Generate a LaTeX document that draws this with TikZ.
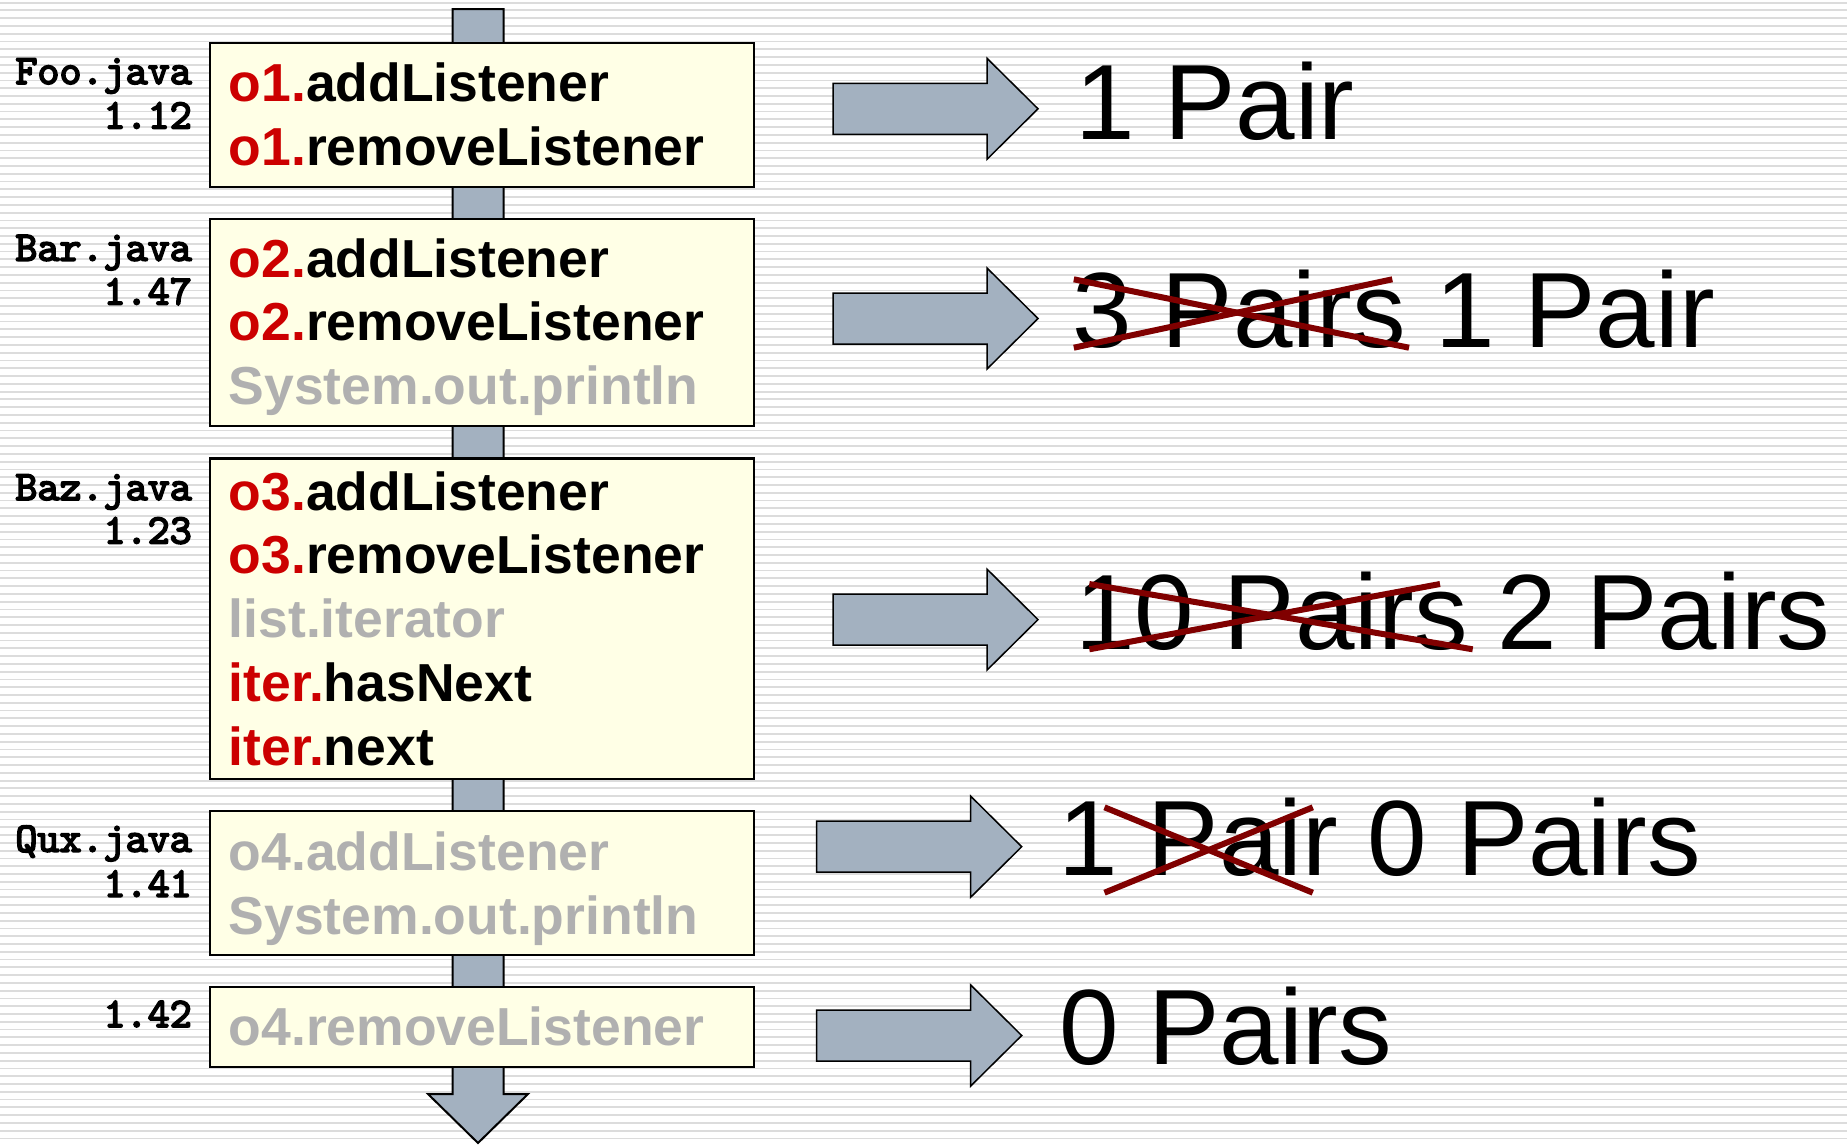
\documentclass[tikz,border=0pt]{standalone}
\usepackage{fontspec}
\setmainfont{Liberation Sans}
\newfontfamily\codefont{lmmono10-regular}[Extension=.otf, FakeBold=4]
\definecolor{keyred}{RGB}{204,0,0}
\definecolor{dimtext}{RGB}{176,176,176}
\definecolor{boxfill}{RGB}{255,255,230}
\definecolor{flowfill}{RGB}{163,177,192}
\definecolor{strike}{RGB}{128,0,0}
\definecolor{stripe}{RGB}{220,220,220}
\begin{document}
\begin{tikzpicture}[x=1pt,y=-1pt,
  callbox/.style={draw=black, line width=2.2pt, fill=boxfill, inner sep=0pt,
    anchor=north west, minimum width=544.5pt},
  call/.style={anchor=base west, inner sep=0pt, font=\fontsize{53.5}{64}\selectfont\bfseries},
  fileinfo/.style={anchor=base east, inner sep=0pt, font=\fontsize{42}{48}\selectfont\codefont},
  count/.style={anchor=base west, inner sep=0pt, font=\fontsize{107}{120}\selectfont},
  flow/.style={draw=black, line width=1.5pt, fill=flowfill, line join=miter},
  cross/.style={draw=strike, line width=6pt},
  pics/result/.style={code={
    \draw[flow] (0,-25.5) -- (154,-25.5) -- (154,-50.5) -- (205,0)
      -- (154,50.5) -- (154,25.5) -- (0,25.5) -- cycle;
    \coordinate (-tip) at (205,0);}}
]
\useasboundingbox (0,0) rectangle (1847,1144);

% striped background
\fill[white] (0,0) rectangle (1847,1144);
\foreach \i in {0,...,147}
  \draw[stripe, line width=1.8pt] (0,{2.6+7.78*\i}) -- (1847,{2.6+7.78*\i});

% the vertical flow arrow behind the call boxes
\coordinate (flowtop) at (478,9);
\coordinate (flowtip) at (478,1143);
\draw[flow, line width=2pt] (452.5,9) -- (503.5,9) -- (503.5,1094) -- (528,1094)
  -- (flowtip) -- (428,1094) -- (452.5,1094) -- cycle;

% call boxes
\node[callbox, minimum height=143.5pt] (b1) at (208.5,42) {};
\node[callbox, minimum height=207pt]   (b2) at (208.5,218) {};
\node[callbox, minimum height=320.7pt] (b3) at (208.5,457.3) {};
\node[callbox, minimum height=144pt]   (b4) at (208.5,810) {};
\node[callbox, minimum height=79.7pt]  (b5) at (208.5,986) {};

% calls
\node[call] (b1a) at (228.5,101.7) {\textcolor{keyred}{o1.}addListener};
\node[call] (b1b) at (228.5,165.7) {\textcolor{keyred}{o1.}removeListener};

\node[call] (b2a) at (228.5,277)   {\textcolor{keyred}{o2.}addListener};
\node[call] (b2b) at (228.5,340.8) {\textcolor{keyred}{o2.}removeListener};
\node[call, text=dimtext] (b2c) at (228.5,404.4) {System.out.println};

\node[call] (b3a) at (228.5,510)   {\textcolor{keyred}{o3.}addListener};
\node[call] (b3b) at (228.5,573.5) {\textcolor{keyred}{o3.}removeListener};
\node[call, text=dimtext] (b3c) at (228.5,637.5) {list.iterator};
\node[call] (b3d) at (228.5,701)   {\textcolor{keyred}{iter.}hasNext};
\node[call] (b3e) at (228.5,765)   {\textcolor{keyred}{iter.}next};

\node[call, text=dimtext] (b4a) at (228.5,870) {o4.addListener};
\node[call, text=dimtext] (b4b) at (228.5,934) {System.out.println};

\node[call, text=dimtext] (b5a) at (228.5,1045.7) {o4.removeListener};

% file names and revisions
\node[fileinfo] (f1) at (192,84)    {Foo.java};
\node[fileinfo] (v1) at (192,128.5) {1.12};
\node[fileinfo] (f2) at (192,260.7) {Bar.java};
\node[fileinfo] (v2) at (192,304.5) {1.47};
\node[fileinfo] (f3) at (192,500)   {Baz.java};
\node[fileinfo] (v3) at (192,543.5) {1.23};
\node[fileinfo] (f4) at (192,851.7) {Qux.java};
\node[fileinfo] (v4) at (192,896.7) {1.41};
\node[fileinfo] (v5) at (192,1027)  {1.42};

% result arrows
\pic (a1) at (833,108.8)   {result};
\pic (a2) at (833,318.5)   {result};
\pic (a3) at (833,619.6)   {result};
\pic (a4) at (816.7,846.7) {result};
\pic (a5) at (816.7,1035.5) {result};

% pair counts
\node[count] (r1) at (1075,139)    {1 Pair};
\node[count] (r2) at (1072.5,347.3) {3 Pairs 1 Pair};
\node[count] (r3) at (1075,649.3)  {10 Pairs 2 Pairs};
\node[count] (r4) at (1058.5,875.7) {1 Pair 0 Pairs};
\node[count] (r5) at (1059,1064)   {0 Pairs};

% struck-out counts
\coordinate (x2a) at (1073.8,347.7); \coordinate (x2b) at (1392.3,279.3);
\coordinate (x2c) at (1073.8,279.3); \coordinate (x2d) at (1409,347.7);
\draw[cross] (x2a) -- (x2b);
\draw[cross] (x2c) -- (x2d);

\coordinate (x3a) at (1089.3,649.3); \coordinate (x3b) at (1440,584);
\coordinate (x3c) at (1089.3,584);   \coordinate (x3d) at (1472.7,649.3);
\draw[cross] (x3a) -- (x3b);
\draw[cross] (x3c) -- (x3d);

\coordinate (x4a) at (1104.5,892.7); \coordinate (x4b) at (1312.8,807.3);
\coordinate (x4c) at (1104.5,807.3); \coordinate (x4d) at (1312.8,892.7);
\draw[cross] (x4a) -- (x4b);
\draw[cross] (x4c) -- (x4d);
\end{tikzpicture}
\end{document}
